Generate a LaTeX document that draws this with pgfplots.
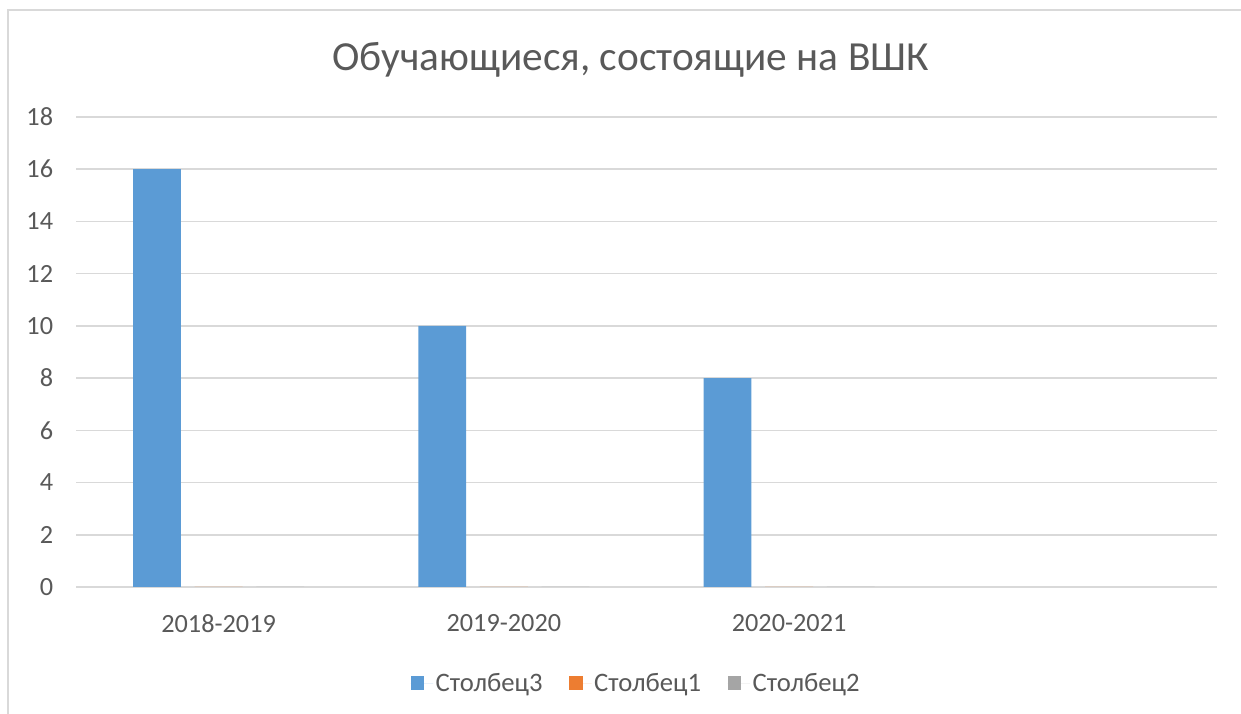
\documentclass[border=0pt]{standalone}
\usepackage{fontspec}
\setmainfont{Carlito}
\usepackage{pgfplots}
\pgfplotsset{compat=1.18}
\definecolor{cA}{HTML}{5B9BD5}
\definecolor{cB}{HTML}{ED7D31}
\definecolor{cC}{HTML}{A5A5A5}
\definecolor{txt}{HTML}{595959}
\definecolor{grd}{HTML}{D9D9D9}
\pgfplotsset{sq/.style={legend image code/.code={\fill[##1] (0bp,-5bp) rectangle (10bp,5bp); \path (0bp,0bp) -- (16.75bp,0bp);}}}
\begin{document}
\begin{tikzpicture}
\useasboundingbox (0,0) rectangle (930.75bp,535.5bp);
\draw[grd, line width=1.2bp] (6bp,0bp) -- (6bp,528bp) -- (930.75bp,528bp);
\node[anchor=base, text=txt, font=\fontsize{31bp}{36bp}\selectfont] at (472.9bp,482.25bp) {Обучающиеся, состоящие на ВШК};
\begin{axis}[
  at={(57bp,95.25bp)}, anchor=south west,
  scale only axis, width=855.75bp, height=352.5bp,
  xmin=-0.5, xmax=3.5, ymin=0, ymax=18,
  xtick={0,1,2}, xticklabels={2018-2019,2019-2020,2020-2021},
  ytick={0,2,...,18},
  ymajorgrids, major grid style={grd, line width=1.1bp},
  axis line style={draw=none}, tick style={draw=none},
  /pgf/number format/assume math mode=true,
  tick label style={font=\fontsize{19.7bp}{23bp}\selectfont, text=txt},
  xticklabel style={inner sep=0pt, anchor=north, yshift=-20.5bp},
  yticklabel style={inner sep=0pt, anchor=east, xshift=-17bp},
  legend columns=3,
  legend style={at={(0.4912,-0.2043)}, anchor=center, draw=none, fill=none,
    font=\fontsize{20bp}{24bp}\selectfont, text=txt,
    inner sep=0pt},
  legend cell align=left,
]
\addplot[ybar, fill=cA, draw=none, bar width=0.168, bar shift=-0.216, sq]
  coordinates {(0,16) (1,10) (2,8)};
\addlegendentry{Столбец3\hspace*{18bp}}
\addplot[ybar, fill=cB, draw=none, bar width=0.168, bar shift=0, sq]
  coordinates {(0,0) (1,0) (2,0)};
\addlegendentry{Столбец1\hspace*{18bp}}
\addplot[ybar, fill=cC, draw=none, bar width=0.168, bar shift=0.216, sq]
  coordinates {(0,0) (1,0) (2,0)};
\addlegendentry{Столбец2}
\end{axis}
\end{tikzpicture}
\end{document}
